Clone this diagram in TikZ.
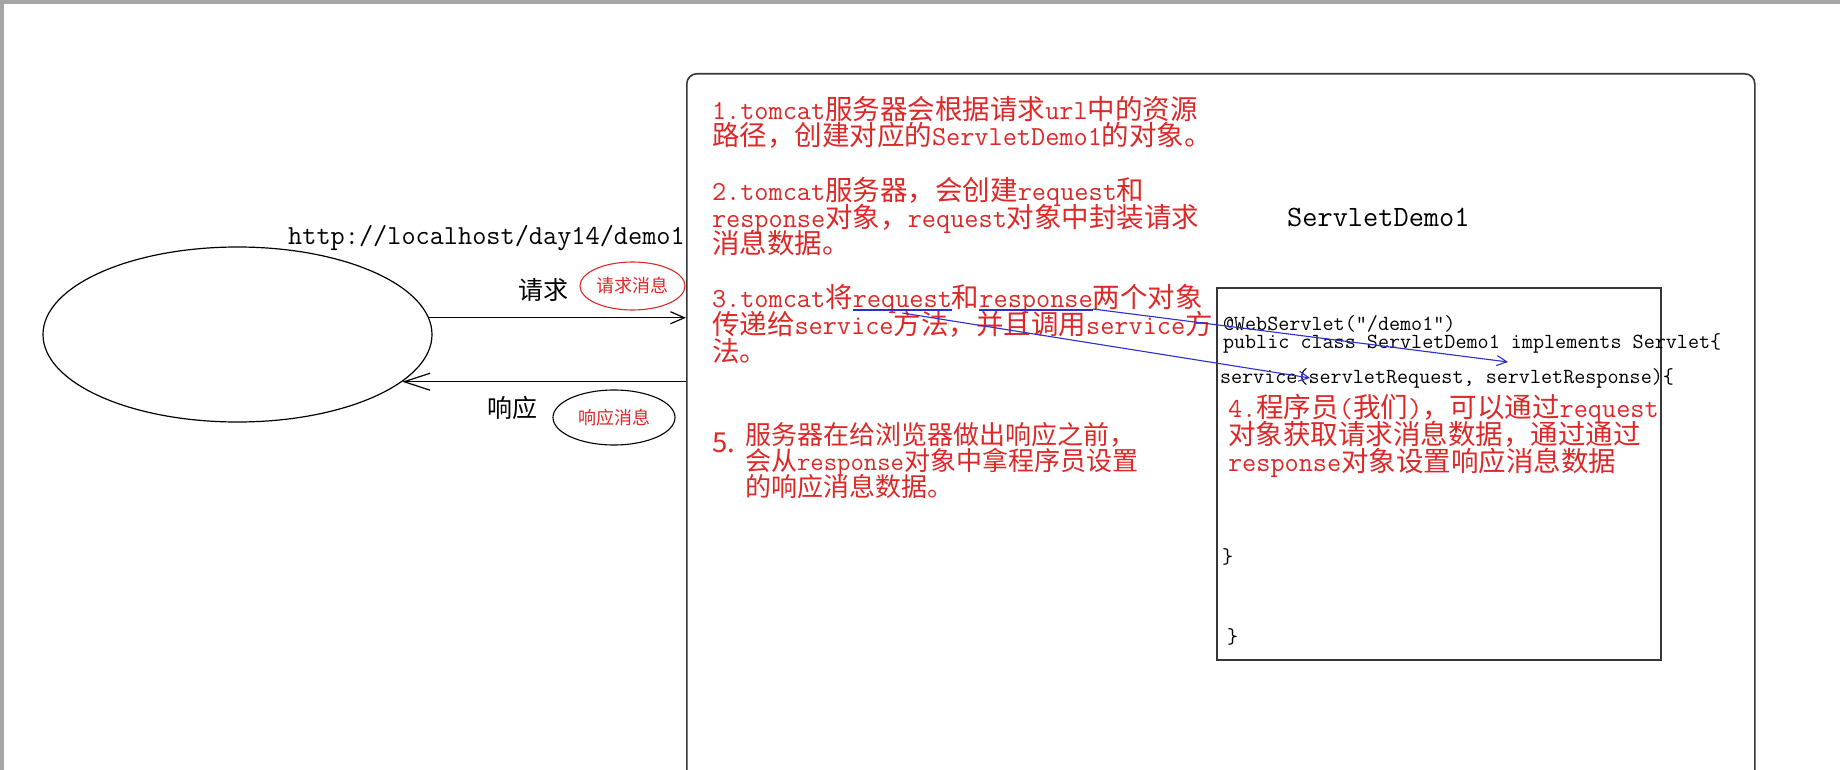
\documentclass[tikz,border=0pt]{standalone}
\usepackage{fontspec}
\usetikzlibrary{positioning,shapes.geometric,arrows.meta}
\newfontfamily\zhfont{Noto Sans CJK SC}
\definecolor{notered}{RGB}{222,40,40}
\definecolor{linkblue}{RGB}{45,45,210}
\definecolor{edgegray}{RGB}{55,55,55}
\definecolor{framegray}{RGB}{165,165,165}
\setlength{\lineskiplimit}{-50pt}
\tikzset{
  note/.style={text=notered, inner sep=0pt, outer sep=0pt, align=left,
    font=\zhfont\fontsize{27.5}{26.7}\selectfont},
  codeline/.style={inner sep=0pt, outer sep=0pt, anchor=base west,
    font=\ttfamily\fontsize{21.5}{21.5}\selectfont},
  msg/.style={ellipse, draw, line width=1.1pt, inner sep=0pt, text=notered,
    font=\zhfont\fontsize{18}{18}\selectfont},
  saytext/.style={inner sep=0pt, font=\zhfont\fontsize{25}{25}\selectfont},
  openarrow/.style={line width=1.2pt, -{Straight Barb[length=14pt,width=12pt]}},
  linkline/.style={linkblue, line width=1.1pt},
}
\begin{document}
\begin{tikzpicture}[x=1pt,y=-1pt]
\useasboundingbox (0,0) rectangle (1840,770);
\clip (0,0) rectangle (1840,770);
\fill[white] (0,0) rectangle (1840,770);
\fill[framegray] (0,0) rectangle (1840,4);
\fill[framegray] (0,0) rectangle (4,770);

% browser side
\node[ellipse, draw, line width=1.2pt, minimum width=389pt, minimum height=175pt, inner sep=0pt] (browser) at (237.5,334.5) {};
\node[anchor=base west, inner sep=0pt, font=\ttfamily\fontsize{27.5}{27.5}\selectfont] (url) at (288,245) {http://localhost/day14/demo1};

% server side
\node[draw=edgegray, line width=1.6pt, rounded corners=10pt, minimum width=1068pt, minimum height=780pt, inner sep=0pt, anchor=north west] (server) at (686,73) {};
\node[anchor=base west, inner sep=0pt, font=\ttfamily\fontsize{29.5}{29.5}\selectfont] (title) at (1287,227) {ServletDemo1};
\node[draw=edgegray, line width=1.6pt, minimum width=444pt, minimum height=372pt, inner sep=0pt, anchor=north west] (codebox) at (1216,287) {};

% request / response
\draw[openarrow] (browser.5.6) -- (browser.5.6 -| server.west);
\draw[line width=1.2pt, -{Straight Barb[length=26pt,width=17pt]}] (browser.-16.2 -| server.west) -- (browser.-16.2);
\node[saytext] (reqword) at (543,290) {请求};
\node[msg, draw=notered, minimum width=105pt, minimum height=48pt] (reqmsg) at (632.5,286) {请求消息};
\node[saytext] (respword) at (512,408) {响应};
\node[msg, minimum width=122pt, minimum height=55pt] (respmsg) at (614,417.5) {响应消息};

% steps (base = last line)
\node[note, anchor=base west] (step1) at (712,146) {\texttt{1.tomcat}服务器会根据请求\texttt{url}中的资源\\路径，创建对应的\texttt{ServletDemo1}的对象。};
\node[note, anchor=base west] (step2) at (712,254) {\texttt{2.tomcat}服务器，会创建\texttt{request}和\\\texttt{response}对象，\texttt{request}对象中封装请求\\消息数据。};
\node[note, anchor=base west] (step3a) at (712,308) {\texttt{3.tomcat}将};
\node[note, base right=0pt of step3a] (req) {\texttt{request}};
\node[note, base right=0pt of req] (step3b) {和};
\node[note, base right=0pt of step3b] (resp) {\texttt{response}};
\node[note, base right=0pt of resp] (step3c) {两个对象};
\node[note, anchor=base west] (step3d) at (712,361) {传递给\texttt{service}方法，并且调用\texttt{service}方\\法。};
\node[note, anchor=west] (step5no) at (712,443) {5.};
\node[note, anchor=base west, font=\zhfont\fontsize{26}{26}\selectfont] (step5) at (745,496) {服务器在给浏览器做出响应之前，\\会从\texttt{response}对象中拿程序员设置\\的响应消息数据。};

% code
\node[codeline] (anno) at (1223,330) {@WebServlet(\textquotedblright/demo1\textquotedblright)};
\node[codeline] (classline) at (1223,348) {public class ServletDemo1 implements Servlet\{};
\node[codeline] (svcline) at (1220,383) {service(servletRequest, servletResponse)\{};
\node[note, anchor=base west] (step4) at (1228,471) {\texttt{4.}程序员\texttt{(}我们\texttt{)}，可以通过\texttt{request}\\对象获取请求消息数据，通过通过\\\texttt{response}对象设置响应消息数据};
\node[codeline] (brace1) at (1222,563) {\}};
\node[codeline] (brace2) at (1227,643) {\}};

% links
\coordinate (resptip) at (1508,362);
\coordinate (reqtip) at (1310,378);
\draw[linkline] ([yshift=-2pt]req.base west) -- ([yshift=-2pt]req.base east);
\draw[linkline] ([yshift=-2pt]resp.base west) -- ([yshift=-2pt]resp.base east);
\draw[linkline, -{Straight Barb[length=10pt,width=10pt]}] ([yshift=-1pt]resp.base east) -- (resptip);
\draw[linkline, -{Straight Barb[length=10pt,width=10pt]}] ([yshift=-5pt]req.base) -- (reqtip);
\end{tikzpicture}
\end{document}
